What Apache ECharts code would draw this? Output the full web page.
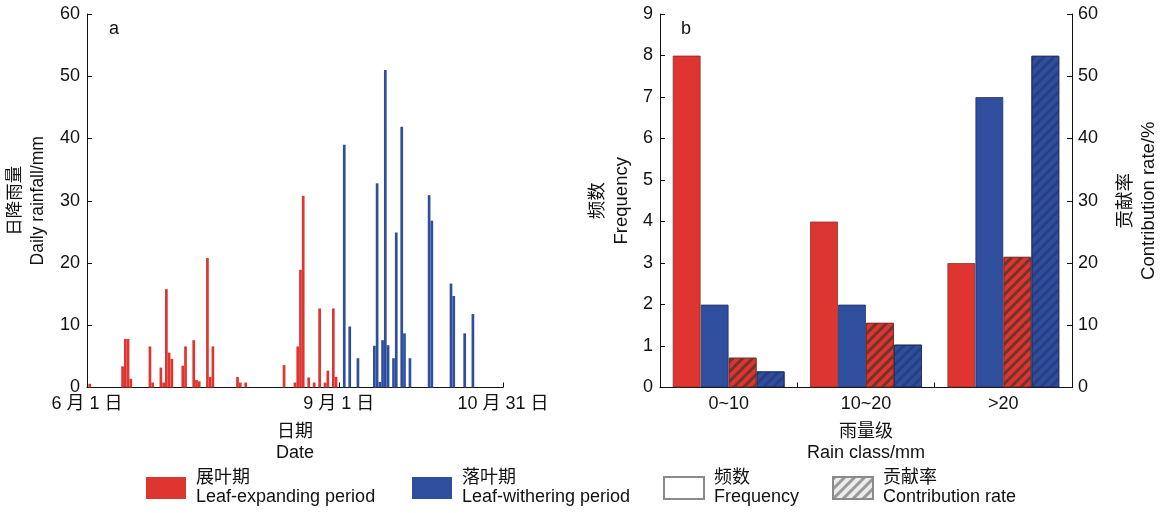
<!DOCTYPE html>
<html><head><meta charset="utf-8">
<script src="https://cdn.jsdelivr.net/npm/echarts@6/dist/echarts.min.js"></script>
<style>html,body{margin:0;padding:0;background:#fff}#c{width:1166px;height:513px}</style>
</head><body><div id="c"></div>
<script>
// Panel a: daily rainfall (day index from 6月1日 = 0)
const redDays = [1, 13, 14, 15, 16, 23, 24, 27, 28, 29, 30, 31, 35, 36, 39, 40, 41, 44, 45, 46, 55, 56, 58, 72, 76, 77, 78, 79, 81, 83, 85, 87, 88, 90, 91];
const redRain = [0.6, 3.4, 7.8, 7.8, 1.4, 6.6, 0.8, 3.2, 0.8, 15.8, 5.6, 4.6, 3.5, 6.6, 7.6, 1.2, 1.0, 20.8, 1.7, 6.6, 1.7, 0.8, 0.8, 3.6, 0.8, 6.6, 18.9, 30.8, 1.6, 0.8, 12.7, 0.8, 2.7, 12.7, 1.7];
const blueDays = [94, 96, 99, 105, 106, 107, 108, 109, 110, 112, 113, 115, 116, 118, 125, 126, 133, 134, 138, 141];
const blueRain = [39.0, 9.8, 4.7, 6.7, 32.8, 0.9, 7.6, 51.0, 6.8, 4.7, 24.9, 41.9, 8.7, 4.7, 30.9, 26.8, 16.7, 14.7, 8.7, 11.8];
const dateTickDays = [0, 92, 152];
const dateTickLabels = ['6 月 1 日', '9 月 1 日', '10 月 31 日'];
// Panel b
const rainClasses = ['0~10', '10~20', '>20'];
const redFreq = [8, 4, 3];
const blueFreq = [2, 2, 7];
const redContr = [4.8, 10.4, 21.0];
const blueContr = [2.6, 6.9, 53.3];

const FONT = "'Liberation Sans', Arial, 'Noto Sans CJK SC', sans-serif";
const RED = '#de3530';
const BLUE = '#2f4f9e';
const TXT = '#111';
const axisLine = {show: true, lineStyle: {color: '#111', width: 1}};
const tick = {show: true, inside: true, length: 5, lineStyle: {color: '#111'}};

const nameRed = '展叶期\nLeaf-expanding period';
const nameBlue = '落叶期\nLeaf-withering period';
const nameFreq = '频数\nFrequency';
const nameContr = '贡献率\nContribution rate';

function hatch(color) {
  return {symbol: 'rect', symbolSize: 1, dashArrayX: [1, 0], dashArrayY: [2.5, 4], rotation: -Math.PI / 4, color: color};
}

const chart = echarts.init(document.getElementById('c'));
const legendBase = {
  orient: 'horizontal', top: 469, padding: 0, itemWidth: 40, itemHeight: 22, icon: 'rect', selectedMode: false,
  textStyle: {fontFamily: FONT, fontSize: 18, lineHeight: 19, color: TXT, padding: [0, 0, 0, 5]}
};
chart.setOption({
  animation: false,
  textStyle: {fontFamily: FONT},
  title: [
    {text: 'a', left: 104, top: 15, textStyle: {fontSize: 18, fontWeight: 'normal', color: TXT, fontFamily: FONT}},
    {text: 'b', left: 676, top: 15, textStyle: {fontSize: 18, fontWeight: 'normal', color: TXT, fontFamily: FONT}}
  ],
  legend: [
    Object.assign({}, legendBase, {left: 146, data: [nameRed]}),
    Object.assign({}, legendBase, {left: 412, data: [nameBlue]}),
    Object.assign({}, legendBase, {left: 663, data: [nameFreq]}),
    Object.assign({}, legendBase, {left: 832, data: [nameContr]})
  ],
  grid: [
    {left: 87, right: 663, top: 14, bottom: 125.5},
    {left: 660, right: 94, top: 14, bottom: 125.5},
    {left: 0, top: 0, width: 1, height: 1, show: false}
  ],
  xAxis: [
    {
      gridIndex: 0, type: 'value', min: 0, max: 152,
      axisLine: axisLine,
      axisTick: Object.assign({}, tick, {customValues: dateTickDays}),
      splitLine: {show: false},
      axisLabel: {
        customValues: dateTickDays, fontSize: 18, color: TXT, margin: 8,
        formatter: function (v) { return dateTickLabels[dateTickDays.indexOf(v)]; }
      },
      name: '日期\nDate', nameLocation: 'middle', nameGap: 34,
      nameTextStyle: {fontSize: 18, lineHeight: 21, color: TXT}
    },
    {
      gridIndex: 1, type: 'category', data: rainClasses,
      axisLine: axisLine, axisTick: tick,
      axisLabel: {fontSize: 18, color: TXT, margin: 8},
      name: '雨量级\nRain class/mm', nameLocation: 'middle', nameGap: 34,
      nameTextStyle: {fontSize: 18, lineHeight: 21, color: TXT}
    },
    {gridIndex: 2, type: 'category', data: ['x'], show: false}
  ],
  yAxis: [
    {
      gridIndex: 0, type: 'value', min: 0, max: 60, interval: 10,
      axisLine: axisLine, axisTick: tick, splitLine: {show: false},
      axisLabel: {fontSize: 18, color: TXT, margin: 7},
      name: '日降雨量\nDaily rainfall/mm', nameLocation: 'middle', nameGap: 37,
      nameTextStyle: {fontSize: 17.5, lineHeight: 23, color: TXT}
    },
    {
      gridIndex: 1, type: 'value', min: 0, max: 9, interval: 1,
      axisLine: axisLine, axisTick: tick, splitLine: {show: false},
      axisLabel: {fontSize: 18, color: TXT, margin: 7},
      name: '频数\nFrequency', nameLocation: 'middle', nameGap: 26,
      nameTextStyle: {fontSize: 18.5, lineHeight: 24, color: TXT}
    },
    {
      gridIndex: 1, type: 'value', position: 'right', min: 0, max: 60, interval: 10,
      axisLine: axisLine, axisTick: tick, splitLine: {show: false},
      axisLabel: {fontSize: 18, color: TXT, margin: 6},
      name: '贡献率\nContribution rate/%', nameLocation: 'middle', nameGap: 42, nameRotate: 90,
      nameTextStyle: {fontSize: 18.5, lineHeight: 23, color: TXT}
    },
    {gridIndex: 2, type: 'value', show: false}
  ],
  series: [
    {name: nameRed, type: 'bar', xAxisIndex: 0, yAxisIndex: 0, barWidth: 2.7, barGap: '-100%',
      itemStyle: {color: RED}, data: redDays.map((d, i) => [d, redRain[i]])},
    {name: nameBlue, type: 'bar', xAxisIndex: 0, yAxisIndex: 0, barWidth: 2.7, barGap: '-100%',
      itemStyle: {color: BLUE}, data: blueDays.map((d, i) => [d, blueRain[i]])},
    {name: 'redFreq', type: 'bar', xAxisIndex: 1, yAxisIndex: 1, barWidth: 28, barGap: '0%',
      itemStyle: {color: RED, borderColor: 'rgba(120,40,35,0.7)', borderWidth: 1}, data: redFreq},
    {name: 'blueFreq', type: 'bar', xAxisIndex: 1, yAxisIndex: 1, barWidth: 28, barGap: '0%',
      itemStyle: {color: BLUE, borderColor: 'rgba(30,40,90,0.7)', borderWidth: 1}, data: blueFreq},
    {name: 'redContr', type: 'bar', xAxisIndex: 1, yAxisIndex: 2, barWidth: 28, barGap: '0%',
      itemStyle: {color: RED, borderColor: 'rgba(120,40,35,0.7)', borderWidth: 1, decal: hatch('rgba(95,50,45,0.85)')}, data: redContr},
    {name: 'blueContr', type: 'bar', xAxisIndex: 1, yAxisIndex: 2, barWidth: 28, barGap: '0%',
      itemStyle: {color: BLUE, borderColor: 'rgba(30,40,90,0.7)', borderWidth: 1, decal: hatch('rgba(35,50,110,0.55)')}, data: blueContr},
    {name: nameFreq, type: 'bar', xAxisIndex: 2, yAxisIndex: 3, data: [],
      itemStyle: {color: '#ffffff', borderColor: '#8a8a8a', borderWidth: 1.5}},
    {name: nameContr, type: 'bar', xAxisIndex: 2, yAxisIndex: 3, data: [],
      itemStyle: {color: '#ececec', borderColor: '#8a8a8a', borderWidth: 1.5, decal: hatch('#9a9a9a')}}
  ]
});
</script>
</body></html>
